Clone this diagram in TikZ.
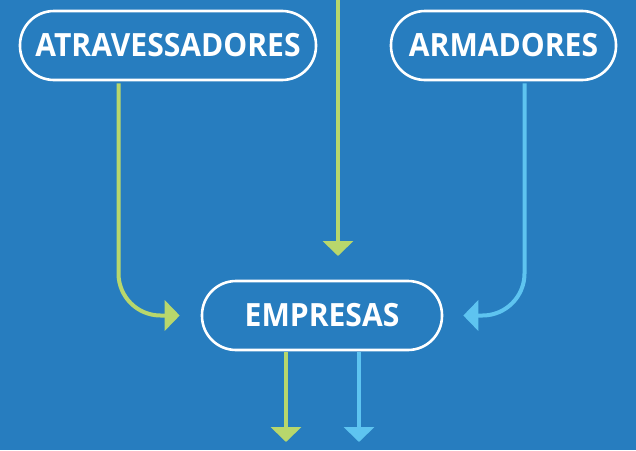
\documentclass[tikz,border=0pt]{standalone}
\usepackage{fontspec}
\setmainfont{Open Sans}
\newfontfamily\boxfont[FakeStretch=0.94]{Open Sans}
\usetikzlibrary{arrows.meta}
\definecolor{bg}{HTML}{277DBF}
\definecolor{lgreen}{HTML}{B8D76C}
\definecolor{lblue}{HTML}{5EC4F0}
\tikzset{
  box/.style={draw=white, line width=2.6pt, rounded corners=34pt, minimum height=69pt,
    inner sep=0pt, text=white, font=\boxfont\fontsize{32}{32}\selectfont\bfseries},
  flow/.style={line width=4pt, -{Triangle[width=30pt,length=15pt]}},
}
\begin{document}
\begin{tikzpicture}[x=1pt,y=-1pt]
\fill[bg] (0,0) rectangle (636,450);
\useasboundingbox (0,0) rectangle (636,450);
\node[box, minimum width=296pt] (atr) at (168,45.5) {ATRAVESSADORES};
\node[box, minimum width=225pt] (arm) at (503.5,45.5) {ARMADORES};
\node[box, minimum width=240pt] (emp) at (322,315.5) {EMPRESAS};
\coordinate (top) at (338,0);
\coordinate (midend) at (338,256);
\coordinate (outg) at (286,442);
\coordinate (outb) at (359,442);
\draw[flow, lgreen, rounded corners=42pt] ([xshift=-49.5pt,yshift=-2pt]atr.south) |- ([xshift=-21pt]emp.west);
\draw[flow, lblue, rounded corners=42pt] ([xshift=21pt,yshift=-2pt]arm.south) |- ([xshift=20pt]emp.east);
\draw[flow, lgreen] (top) -- (midend);
\draw[flow, lgreen] ([yshift=-1pt]emp.south -| outg) -- (outg);
\draw[flow, lblue] ([yshift=-1pt]emp.south -| outb) -- (outb);
\end{tikzpicture}
\end{document}
